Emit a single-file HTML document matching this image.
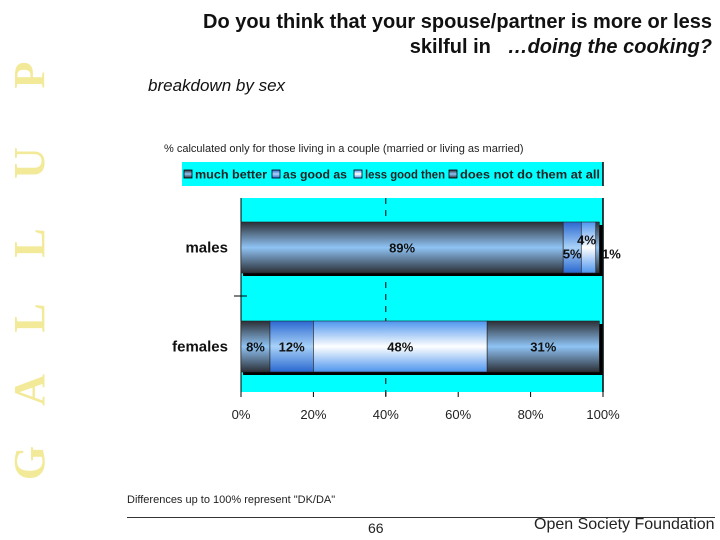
<!DOCTYPE html>
<html><head><meta charset="utf-8"><style>
body{margin:0;background:#fff;width:720px;height:540px;overflow:hidden;position:relative;font-family:"Liberation Sans",sans-serif}
.abs{position:absolute}
.gl{position:absolute;left:30px;transform:translate(-50%,-50%) rotate(-90deg);font-family:'Liberation Serif',serif;font-weight:bold;font-size:44px;color:#f2ea98;line-height:44px}
</style></head><body>
<div>
<div class="gl" style="top:463px">G</div>
<div class="gl" style="top:390px">A</div>
<div class="gl" style="top:318px">L</div>
<div class="gl" style="top:243px">L</div>
<div class="gl" style="top:163px">U</div>
<div class="gl" style="top:75px">P</div>
</div>
<div class="abs" style="left:130px;top:10px;width:582px;text-align:right;font-size:20px;font-weight:bold;color:#111;line-height:25px">Do you think that your spouse/partner is more or less<br>skilful in &nbsp;&nbsp;<i>…doing the cooking?</i></div>
<div class="abs" style="left:148px;top:76px;font-size:17px;font-style:italic;color:#111">breakdown by sex</div>
<div class="abs" style="left:164px;top:143px;font-size:11px;color:#222">% calculated only for those living in a couple (married or living as married)</div>
<div class="abs" style="left:127px;top:494px;font-size:11px;color:#222">Differences up to 100% represent "DK/DA"</div>
<div class="abs" style="left:127px;top:517px;width:588px;border-top:1px solid #333"></div>
<div class="abs" style="left:368px;top:520px;font-size:14px;color:#222">66</div>
<div class="abs" style="left:534px;top:516px;font-size:16px;color:#222;white-space:nowrap">Open Society Foundation</div>
<svg class="abs" style="left:0;top:0" width="720" height="540" id="chart">
<defs>
<linearGradient id="g0" x1="0" y1="0" x2="0" y2="1"><stop offset="0" stop-color="#2b2f36"/><stop offset="0.5" stop-color="#8fc3f4"/><stop offset="1" stop-color="#2b2f36"/></linearGradient>
<linearGradient id="g1" x1="0" y1="0" x2="0" y2="1"><stop offset="0" stop-color="#2a68d0"/><stop offset="0.5" stop-color="#a9d2f8"/><stop offset="1" stop-color="#2a68d0"/></linearGradient>
<linearGradient id="g2" x1="0" y1="0" x2="0" y2="1"><stop offset="0" stop-color="#4d95ee"/><stop offset="0.5" stop-color="#ffffff"/><stop offset="1" stop-color="#4d95ee"/></linearGradient>
<linearGradient id="g3" x1="0" y1="0" x2="0" y2="1"><stop offset="0" stop-color="#2b2f36"/><stop offset="0.5" stop-color="#8fc3f4"/><stop offset="1" stop-color="#2b2f36"/></linearGradient>
</defs>
</svg>
<script>
const categories=["males","females"];
const seriesNames=["much better","as good as","less good then","does not do them at all"];
const muchBetter=[89,8];
const asGoodAs=[5,12];
const lessGood=[4,48];
const doesNotDo=[1,31];
const ticks=[0,20,40,60,80,100];
const series=[muchBetter,asGoodAs,lessGood,doesNotDo];
const NS="http://www.w3.org/2000/svg";
const svg=document.getElementById('chart');
const X0=241,X1=603;
const x=v=>X0+(X1-X0)*v/100;
const rowY=i=>222+i*99;
const BH=51;
function mk(t,a,p){const e=document.createElementNS(NS,t);for(const k in a)e.setAttribute(k,a[k]);(p||svg).appendChild(e);return e;}
const lg=mk('rect',{x:182,y:162,width:421,height:24,fill:'#00ffff'});


mk('line',{x1:603,y1:162,x2:603,y2:186,stroke:'#000','stroke-width':1.5});
const lx=[184,272,354,449];
const lw=[72,64,80,140];
seriesNames.forEach((n,i)=>{
 const g=mk('g',{});
 
 
 mk('rect',{x:lx[i],y:170,width:8,height:8,fill:'url(#g'+i+')',stroke:'#000','stroke-width':0.8},g);
 const t=mk('text',{x:lx[i]+11,y:178.5,'font-size':11.5,'font-weight':'bold',fill:'#222',textLength:lw[i],lengthAdjust:'spacingAndGlyphs'},g);t.textContent=n;
});
const pa=mk('rect',{x:X0,y:198,width:X1-X0,height:194,fill:'#00ffff'});


mk('line',{x1:X0,y1:198,x2:X0,y2:396,stroke:'#000','stroke-width':1});
mk('line',{x1:X1,y1:198,x2:X1,y2:392,stroke:'#000','stroke-width':1.5});
mk('line',{x1:x(40),y1:198,x2:x(40),y2:396,stroke:'#000','stroke-width':1,'stroke-dasharray':'6,6'});
mk('line',{x1:234,y1:296,x2:X0+6,y2:296,stroke:'#000','stroke-width':1});
ticks.forEach(t=>{
 mk('line',{x1:x(t),y1:392,x2:x(t),y2:397,stroke:'#000'});
 const tx=mk('text',{x:x(t),y:419,'font-size':13,'text-anchor':'middle',fill:'#222'});
 
 
 tx.textContent=t+'%';
});
categories.forEach((c,i)=>{
 const y=rowY(i);
 const cl=mk('text',{x:228,y:y+BH/2+5,'font-size':15,'font-weight':'bold','text-anchor':'end',fill:'#111'});
 
 
 cl.textContent=c;
 mk('rect',{x:X0+2,y:y+3,width:(x(series.reduce((s,a)=>s+a[i],0))-X0)+1,height:BH,fill:'#000'});
 let acc=0;
 series.forEach((arr,j)=>{
  const v=arr[i];
  const r=mk('rect',{x:x(acc),y:y,width:x(acc+v)-x(acc),height:BH,fill:'url(#g'+j+')',stroke:'#222','stroke-width':0.6});
  
  
  let lx2=(x(acc)+x(acc+v))/2, ly=y+BH/2+5;
  if(i===0&&j===1){ly+=6;}
  if(i===0&&j===2){ly-=8;lx2-=2;}
  if(i===0&&j===3){lx2=x(acc+v)+12;ly+=6;}
  const t=mk('text',{x:lx2,y:ly,'font-size':13,'font-weight':'bold','text-anchor':'middle',fill:'#111'});
  
  
  t.textContent=v+'%';
  acc+=v;
 });
});
</script>
</body></html>
